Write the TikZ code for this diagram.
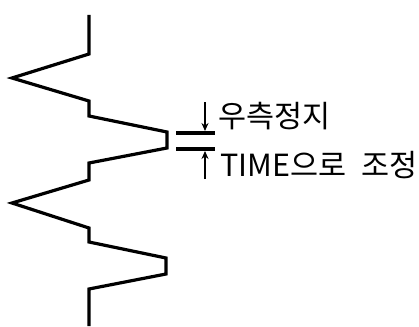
\documentclass[tikz,border=0pt]{standalone}
\usepackage{fontspec}
\newfontfamily\krfont{Noto Sans CJK KR}
\usetikzlibrary{arrows.meta}
\begin{document}
\begin{tikzpicture}[x=1pt,y=-1pt,
  wave/.style={line width=3.2pt,line join=miter,black},
  gauge/.style={line width=3.2pt,black},
  pointer/.style={line width=2.4pt,black,-{Stealth[length=8pt,width=7pt]}},
  lbl/.style={font=\krfont\fontsize{30.5}{33}\selectfont,anchor=west,inner sep=0pt}]
\useasboundingbox (0,0) rectangle (419,326);
\coordinate (w0) at (89,15);
\coordinate (w1) at (89,54);
\coordinate (w2) at (12,78);
\coordinate (w3) at (89,101);
\coordinate (w4) at (89,116);
\coordinate (w5) at (167,132);
\coordinate (w6) at (167,148);
\coordinate (w7) at (89,163);
\coordinate (w8) at (89,180);
\coordinate (w9) at (12,203);
\coordinate (w10) at (89,228);
\coordinate (w11) at (89,242);
\coordinate (w12) at (166,258);
\coordinate (w13) at (166,274);
\coordinate (w14) at (89,289);
\coordinate (w15) at (89,326);
\draw[wave] (w0)--(w1)--(w2)--(w3)--(w4)--(w5)--(w6)--(w7)--(w8)--(w9)--(w10)--(w11)--(w12)--(w13)--(w14)--(w15);
\coordinate (g1a) at (176,133);
\coordinate (g1b) at (215,133);
\coordinate (g2a) at (176,149);
\coordinate (g2b) at (215,149);
\draw[gauge] (g1a)--(g1b);
\draw[gauge] (g2a)--(g2b);
\coordinate (a1s) at (205,102);
\coordinate (a1e) at (205,131);
\coordinate (a2s) at (205,179);
\coordinate (a2e) at (205,151);
\draw[pointer] (a1s)--(a1e);
\draw[pointer] (a2s)--(a2e);
\node[lbl] (t1) at (218,116) {우측정지};
\node[lbl] (t2) at (220,165) {TIME으로\hspace{15pt}조정};
\end{tikzpicture}
\end{document}
